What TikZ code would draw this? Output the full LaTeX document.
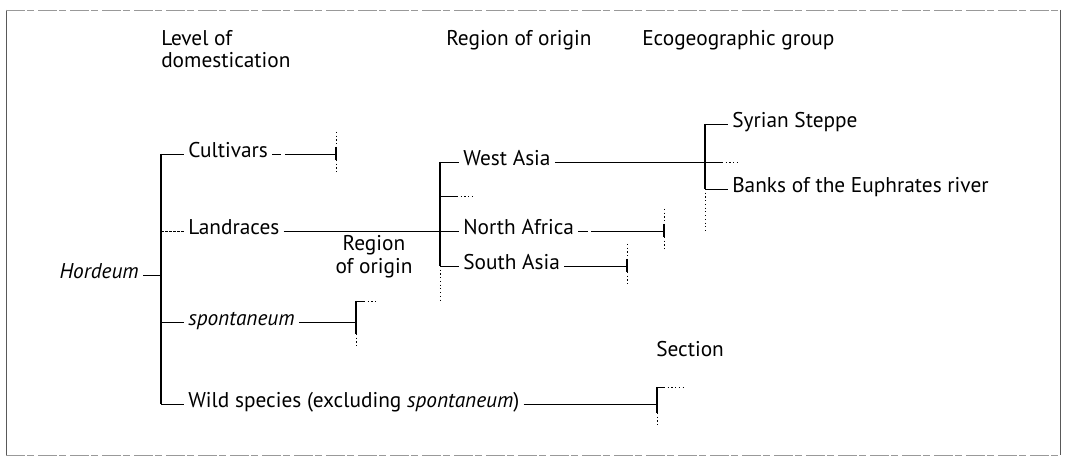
\documentclass[tikz,border=0pt]{standalone}
\usepackage{fontspec}
\setmainfont{PT Sans}
\usetikzlibrary{calc}
\newcommand{\lblfont}{\fontsize{16}{17}\selectfont}
\begin{document}
\begin{tikzpicture}[x=0.75pt,y=-0.75pt,
  lbl/.style={font=\lblfont, inner xsep=3pt, inner ysep=1pt, anchor=mid west},
  hdr/.style={font=\lblfont, inner sep=0pt, anchor=base west, align=left},
  spine/.style={line width=0.9pt, black},
  tick/.style={line width=0.6pt, black},
  gapline/.style={tick, dash pattern=on 7pt off 2.5pt on 200pt},
  dotline/.style={line width=0.6pt, dash pattern=on 0.8pt off 2pt},
  fside/.style={line width=0.6pt, black!65},
  ftop/.style={line width=0.5pt, black!40, dash pattern=on 14pt off 2pt on 5pt off 3pt},
  leaf/.pic={
    \draw[spine] (0,-7) -- (0,6);
    \draw[dotline] (0,-22) -- (0,-7) (0,6) -- (0,20);
  }]
\useasboundingbox (0,0) rectangle (1076,466);

% frame
\draw[fside] (6,10) -- (6,455);
\draw[fside] (1060,10) -- (1060,455);
\draw[ftop] (6,10) -- (1060,10);
\draw[ftop] (6,455) -- (1060,455);

% column headings
\node[hdr] (hLevel) at (161,68) {Level of\\domestication};
\node[hdr] (hRegion) at (446,46) {Region of origin};
\node[hdr] (hEco) at (642,46) {Ecogeographic group};

% first level: Hordeum
\node[lbl, anchor=mid east] (hord) at (143,275) {\textit{Hordeum}};
\node[lbl] (cult) at (184,154) {Cultivars};
\node[lbl] (land) at (184,231) {Landraces};
\node[lbl] (spont) at (184,322) {\textit{spontaneum}};
\node[lbl] (wild) at (184,404) {Wild species (excluding \textit{spontaneum})};

\coordinate (s1a) at (161,154);
\coordinate (s1b) at (161,404);
\draw[spine] (s1a) -- (s1b);
\draw[tick] (hord.mid east) -- (hord.mid east -| s1a);
\draw[tick] (s1a) -- (cult.mid west);
\draw[tick, dash pattern=on 2pt off 1pt] (land.mid west -| s1a) -- (land.mid west);
\draw[tick] (spont.mid west -| s1a) -- (spont.mid west);
\draw[tick] (s1b) -- (wild.mid west);

% cultivars: branch not expanded
\coordinate (cultEnd) at (336,154);
\draw[gapline] (cult.mid east) -- (cultEnd);
\pic at (cultEnd) {leaf};

% second level: region of origin (landraces)
\node[lbl] (westasia) at (459,162) {West Asia};
\node[lbl] (nafrica) at (459,231) {North Africa};
\node[lbl] (sasia) at (459,266) {South Asia};
\coordinate (s2a) at (440,162);
\coordinate (s2b) at (440,266);
\coordinate (s2c) at (440,302);
\coordinate (rdotsA) at (457,196);
\coordinate (rdotsB) at (474,196);
\draw[spine] (s2a) -- (s2b);
\draw[dotline] (s2b) -- (s2c);
\draw[tick] (s2a) -- (westasia.mid west);
\draw[tick] (rdotsA -| s2a) -- (rdotsA);
\draw[dotline] (rdotsA) -- (rdotsB);
\draw[tick] (land.mid east) -- (nafrica.mid west);
\draw[tick] (s2b) -- (sasia.mid west);

\coordinate (nafEnd) at (664,231);
\draw[gapline] (nafrica.mid east) -- (nafEnd);
\pic at (nafEnd) {leaf};
\coordinate (sasEnd) at (627,266);
\draw[tick] (sasia.mid east) -- (sasEnd);
\pic at (sasEnd) {leaf};

% third level: ecogeographic group (West Asia)
\node[lbl] (syr) at (728,124) {Syrian Steppe};
\node[lbl] (banks) at (728,189) {Banks of the Euphrates river};
\coordinate (s3a) at (705,124);
\coordinate (s3b) at (705,189);
\coordinate (s3c) at (705,233);
\coordinate (edotsA) at (722,162);
\coordinate (edotsB) at (739,162);
\draw[spine] (s3a) -- (s3b);
\draw[dotline] (s3b) -- (s3c);
\draw[tick] (s3a) -- (syr.mid west);
\draw[tick] (s3b) -- (banks.mid west);
\draw[tick] (westasia.mid east) -- (edotsA);
\draw[dotline] (edotsA) -- (edotsB);

% spontaneum: region of origin
\node[font=\lblfont, align=center, inner sep=0pt, anchor=south] (lblRegion) at (374,278)
  {Region\\of origin};
\coordinate (spEnd) at (356,322);
\coordinate (spTop) at (356,301);
\coordinate (spTopA) at (364,301);
\coordinate (spTopB) at (378,301);
\coordinate (spBot) at (356,334);
\coordinate (spBot2) at (356,347);
\draw[tick] (spont.mid east) -- (spEnd);
\draw[spine] (spTop) -- (spBot);
\draw[dotline] (spBot) -- (spBot2);
\draw[tick] (spTop) -- (spTopA);
\draw[dotline] (spTopA) -- (spTopB);

% wild species: section
\node[lbl, inner xsep=0pt] (lblSection) at (656,353) {Section};
\coordinate (wEnd) at (657,404);
\coordinate (wTop) at (657,387);
\coordinate (wTopA) at (664,387);
\coordinate (wTopB) at (686,387);
\coordinate (wBot) at (657,413);
\coordinate (wBot2) at (657,426);
\draw[tick] (wild.mid east) -- (wEnd);
\draw[spine] (wTop) -- (wBot);
\draw[dotline] (wBot) -- (wBot2);
\draw[tick] (wTop) -- (wTopA);
\draw[dotline] (wTopA) -- (wTopB);
\end{tikzpicture}
\end{document}
